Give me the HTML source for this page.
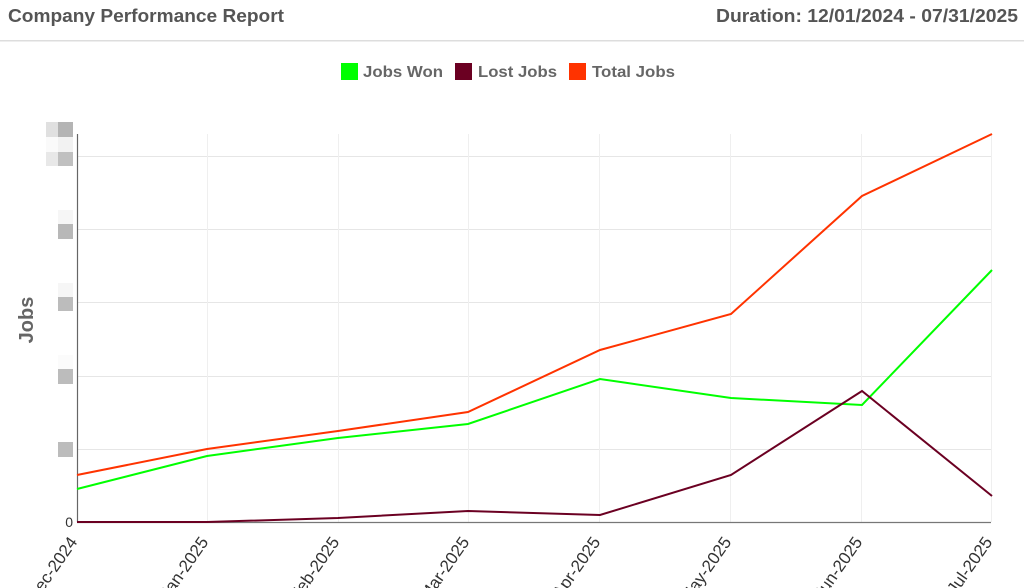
<!DOCTYPE html>
<html><head><meta charset="utf-8"><style>
html,body{margin:0;padding:0;background:#fff;width:1024px;height:588px;overflow:hidden}
svg{display:block}
text{font-family:"Liberation Sans",Arial,sans-serif}
</style></head><body>
<svg width="1024" height="588" viewBox="0 0 1024 588" xmlns="http://www.w3.org/2000/svg">
<text x="8" y="22" font-size="18" font-weight="bold" fill="#555" textLength="276" lengthAdjust="spacingAndGlyphs">Company Performance Report</text>
<text x="1018" y="22" font-size="18" font-weight="bold" fill="#555" text-anchor="end" textLength="302" lengthAdjust="spacingAndGlyphs">Duration: 12/01/2024 - 07/31/2025</text>
<rect x="0" y="40" width="1024" height="1.5" fill="#ddd"/>
<!-- legend -->
<rect x="341" y="63" width="17" height="17" fill="#00ff00"/>
<text x="363" y="77" font-size="16" font-weight="bold" fill="#666" textLength="80" lengthAdjust="spacingAndGlyphs">Jobs Won</text>
<rect x="455" y="63" width="17" height="17" fill="#6b0022"/>
<text x="478" y="77" font-size="16" font-weight="bold" fill="#666" textLength="79" lengthAdjust="spacingAndGlyphs">Lost Jobs</text>
<rect x="569" y="63" width="17" height="17" fill="#ff3300"/>
<text x="592" y="77" font-size="16" font-weight="bold" fill="#666" textLength="83" lengthAdjust="spacingAndGlyphs">Total Jobs</text>
<!-- y label -->
<text transform="translate(33,320) rotate(-90)" font-size="20" font-weight="bold" fill="#666" text-anchor="middle">Jobs</text>
<!-- grid -->
<g stroke="#e6e6e6" stroke-width="1">
<line x1="77" y1="156.5" x2="991" y2="156.5"/>
<line x1="77" y1="229.5" x2="991" y2="229.5"/>
<line x1="77" y1="302.5" x2="991" y2="302.5"/>
<line x1="77" y1="376.5" x2="991" y2="376.5"/>
<line x1="77" y1="449.5" x2="991" y2="449.5"/>
</g>
<g stroke="#efefef" stroke-width="1">
<line x1="207.5" y1="134" x2="207.5" y2="522"/>
<line x1="338.5" y1="134" x2="338.5" y2="522"/>
<line x1="468.5" y1="134" x2="468.5" y2="522"/>
<line x1="599.5" y1="134" x2="599.5" y2="522"/>
<line x1="730.5" y1="134" x2="730.5" y2="522"/>
<line x1="861.5" y1="134" x2="861.5" y2="522"/>
<line x1="991.5" y1="134" x2="991.5" y2="522"/>
</g>
<!-- pixelated y tick labels -->
<rect x="46" y="122" width="12" height="15" fill="#e0e0e0"/>
<rect x="58" y="122" width="15" height="15" fill="#b4b4b4"/>
<rect x="46" y="137" width="12" height="15" fill="#fafafa"/>
<rect x="58" y="137" width="15" height="15" fill="#f2f2f2"/>
<rect x="46" y="152" width="12" height="14" fill="#e8e8e8"/>
<rect x="58" y="152" width="15" height="14" fill="#c0c0c0"/>
<rect x="58" y="210" width="15" height="14" fill="#f6f6f6"/>
<rect x="58" y="224" width="15" height="15" fill="#b8b8b8"/>
<rect x="58" y="283" width="15" height="14" fill="#f6f6f6"/>
<rect x="58" y="297" width="15" height="14" fill="#bcbcbc"/>
<rect x="58" y="355" width="15" height="14" fill="#fbfbfb"/>
<rect x="58" y="369" width="15" height="15" fill="#bcbcbc"/>
<rect x="58" y="442" width="15" height="15" fill="#bcbcbc"/>
<text x="73" y="527" font-size="14" fill="#333" text-anchor="end">0</text>
<!-- axes -->
<line x1="77.5" y1="134" x2="77.5" y2="522" stroke="#666" stroke-width="1.2"/>
<line x1="77" y1="522.5" x2="991" y2="522.5" stroke="#777" stroke-width="1.2"/>
<!-- series -->
<polyline fill="none" stroke="#ff3300" stroke-width="2" points="77,475 207,449 338,431 468,412 600,350 731,314 862,196 992,134"/>
<polyline fill="none" stroke="#00ff00" stroke-width="2" points="77,489 207,456 338,438 468,424 600,379 731,398 862,405 992,270"/>
<polyline fill="none" stroke="#6b0022" stroke-width="2" points="77,522 207,522 338,518 468,511 600,515 731,475 862,391 992,496"/>
<!-- x labels -->
<g font-size="17" fill="#333" text-anchor="end">
<text transform="translate(78,542) rotate(-55)">Dec-2024</text>
<text transform="translate(209,542) rotate(-55)">Jan-2025</text>
<text transform="translate(340,542) rotate(-55)">Feb-2025</text>
<text transform="translate(470,542) rotate(-55)">Mar-2025</text>
<text transform="translate(601,542) rotate(-55)">Apr-2025</text>
<text transform="translate(732,542) rotate(-55)">May-2025</text>
<text transform="translate(863,542) rotate(-55)">Jun-2025</text>
<text transform="translate(993,542) rotate(-55)">Jul-2025</text>
</g>
</svg>
</body></html>
